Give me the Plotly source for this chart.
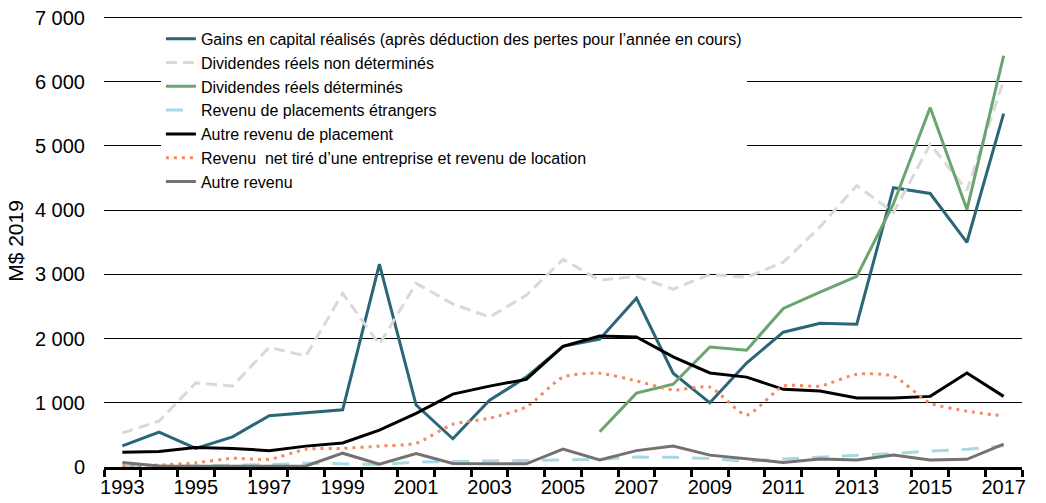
import plotly.graph_objects as go

years = list(range(1993, 2018))

gains_capital = [330, 545, 290, 470, 800, 850, 890, 3160, 965, 440, 1040, 1400, 1880, 1990, 2630,
                 1460, 1000, 1620, 2100, 2240, 2225, 4350, 4260, 3500, 5505]
div_non_det = [530, 715, 1310, 1260, 1865, 1730, 2705, 1910, 2860, 2540, 2335, 2675, 3235, 2910, 2970,
               2770, 3000, 2955, 3190, 3740, 4385, 3965, 5025, 4310, 6020]
div_det_years = list(range(2006, 2018))
div_det = [550, 1150, 1290, 1870, 1820, 2470, 2725, 2970, 4100, 5600, 4010, 6405]
rev_etrangers = [15, 10, 15, 30, 35, 60, 55, 40, 75, 90, 95, 100, 110, 120, 155,
                 150, 130, 90, 125, 150, 175, 210, 250, 275, 330]
autre_placement = [230, 240, 305, 290, 255, 325, 375, 575, 835, 1135, 1260, 1365, 1880, 2040, 2025,
                   1715, 1465, 1400, 1210, 1185, 1075, 1075, 1100, 1465, 1100]
rev_entreprise = [20, 30, 65, 135, 120, 275, 290, 325, 370, 665, 760, 935, 1400, 1460, 1340,
                  1200, 1245, 810, 1260, 1260, 1445, 1415, 995, 870, 795]
autre_revenu = [70, 15, 10, 10, 15, 15, 215, 45, 210, 55, 50, 50, 280, 110, 255,
                325, 185, 130, 70, 125, 110, 185, 110, 120, 355]
y_ticks = [0, 1000, 2000, 3000, 4000, 5000, 6000, 7000]
y_tick_labels = ["0", "1 000", "2 000", "3 000", "4 000", "5 000", "6 000", "7 000"]

names = [
    "Gains en capital réalisés (après déduction des pertes pour l\u2019année en cours)",
    "Dividendes réels non déterminés",
    "Dividendes réels déterminés",
    "Revenu de placements étrangers",
    "Autre revenu de placement",
    "Revenu  net tiré d\u2019une entreprise et revenu de location",
    "Autre revenu",
]

fig = go.Figure()
fig.add_trace(go.Scatter(x=years, y=gains_capital, name=names[0], mode="lines",
                         line=dict(color="#2B6677", width=3)))
fig.add_trace(go.Scatter(x=years, y=div_non_det, name=names[1], mode="lines",
                         line=dict(color="#D9D9D9", width=3, dash="11px,6px")))
fig.add_trace(go.Scatter(x=div_det_years, y=div_det, name=names[2], mode="lines",
                         line=dict(color="#6AA56F", width=3)))
fig.add_trace(go.Scatter(x=years, y=rev_etrangers, name=names[3], mode="lines",
                         line=dict(color="#A9D8E5", width=3, dash="17px,13px")))
fig.add_trace(go.Scatter(x=years, y=autre_placement, name=names[4], mode="lines",
                         line=dict(color="#000000", width=3)))
fig.add_trace(go.Scatter(x=years, y=rev_entreprise, name=names[5], mode="lines",
                         line=dict(color="#EF8A62", width=3, dash="3px,5px", shape="spline", smoothing=0.6)))
fig.add_trace(go.Scatter(x=years, y=autre_revenu, name=names[6], mode="lines",
                         line=dict(color="#767171", width=3)))

font_family = "Liberation Sans, Arial, sans-serif"

fig.update_layout(
    width=1046, height=503,
    margin=dict(l=104, r=24, t=15, b=36, autoexpand=False),
    paper_bgcolor="white", plot_bgcolor="white",
    font=dict(family=font_family, size=20, color="#000000"),
    showlegend=True,
    legend=dict(x=0.062, y=0.985, xanchor="left", yanchor="top",
                bgcolor="white", font=dict(size=16, family=font_family),
                tracegroupgap=0, itemwidth=30),
    xaxis=dict(range=[1992.5, 2017.5], tickvals=list(range(1993, 2018, 2)),
               ticks="", showgrid=False, showline=True, linecolor="black", linewidth=3,
               zeroline=False, tickfont=dict(size=20), automargin=False,
               minor=dict(tick0=1992.5, dtick=1, ticks="outside", ticklen=7, tickwidth=3,
                          tickcolor="black", showgrid=False)),
    yaxis=dict(range=[0, 7040], tickvals=y_ticks, ticktext=y_tick_labels, showgrid=True,
               gridcolor="#000000", gridwidth=1, zeroline=False, showline=False,
               ticks="outside", ticklen=14, tickcolor="rgba(255,255,255,0)", automargin=False,
               tickfont=dict(size=20),
               title=dict(text="M$ 2019", font=dict(size=21), standoff=5)),
)

fig.write_html("out.html", config={"displayModeBar": False},
               post_script="document.body.style.margin='0px';document.body.style.overflow='hidden';")
